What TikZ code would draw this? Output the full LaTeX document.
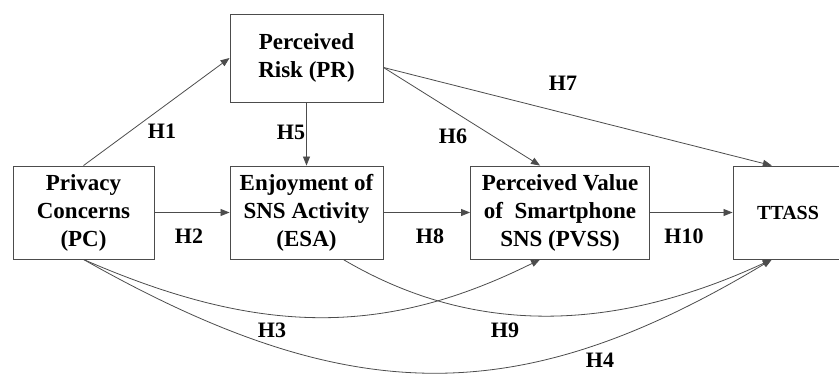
\documentclass[tikz,border=0pt]{standalone}
\usepackage{fontspec}
\setmainfont{Liberation Serif}
\usetikzlibrary{arrows.meta}

\begin{document}
\begin{tikzpicture}[x=1pt,y=-1pt,
  construct/.style={draw=black!70,line width=0.9pt,align=center,font=\fontsize{23}{28}\selectfont\bfseries,inner sep=0pt},
  hyp/.style={font=\fontsize{22}{26}\selectfont\bfseries},
  link/.style={draw=black!70,line width=0.8pt,-{Triangle[length=9pt,width=7pt]}}]
\useasboundingbox (0,0) rectangle (839,373);
\node[construct,minimum width=153,minimum height=88] (pr) at (306.5,58) {Perceived\\Risk (PR)};
\node[construct,minimum width=141,minimum height=93] (pc) at (83.5,212.5) {Privacy\\Concerns\\(PC)};
\node[construct,minimum width=153,minimum height=93] (esa) at (306.5,212.5) {Enjoyment of\\SNS Activity\\(ESA)};
\node[construct,minimum width=179,minimum height=93] (pvss) at (560,212.5) {Perceived Value\\of~ Smartphone\\SNS (PVSS)};
\node[construct,minimum width=110,minimum height=93,font=\fontsize{20}{24}\selectfont\bfseries] (ttass) at (788,212.5) {TTASS};
\draw[link] (pc.north) -- (pr.west);
\draw[link] (pr.south) -- (esa.north);
\draw[link] (pr.-7) -- (pvss.113);
\draw[link] (pr.-7) -- (ttass.109);
\draw[link] (pc.east) -- (esa.west);
\draw[link] (esa.east) -- (pvss.west);
\draw[link] (pvss.east) -- (ttass.west);
\draw[link] (pc.south) .. controls +(176.5,77) and +(-155,77) .. (pvss.-113);
\draw[link] (pc.south) .. controls +(267,151) and +(-252,151) .. (ttass.-109);
\draw[link] (esa.-52) .. controls +(127,75) and +(-162,75) .. (ttass.-109);
\node[hyp] (h1) at (162,131) {H1};
\node[hyp] (h5) at (291,132) {H5};
\node[hyp] (h6) at (453,136) {H6};
\node[hyp] (h7) at (563,83) {H7};
\node[hyp] (h2) at (189,236) {H2};
\node[hyp] (h8) at (430,236) {H8};
\node[hyp] (h10) at (684,236) {H10};
\node[hyp] (h3) at (272,330) {H3};
\node[hyp] (h9) at (505,330) {H9};
\node[hyp] (h4) at (600,360) {H4};
\end{tikzpicture}
\end{document}
